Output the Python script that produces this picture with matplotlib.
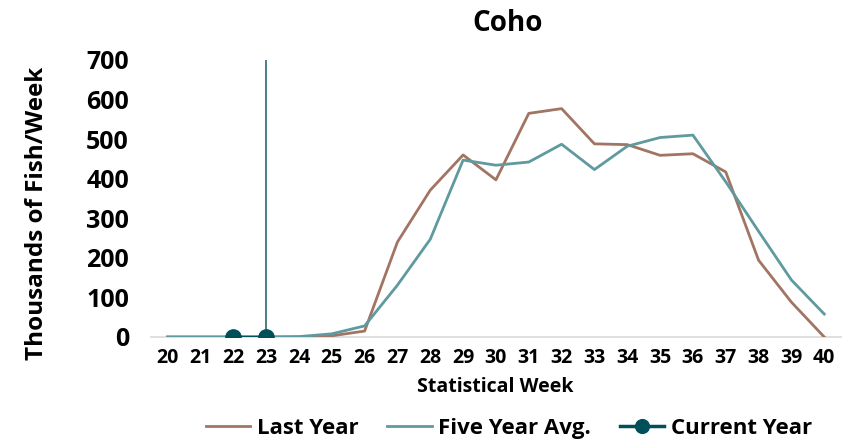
import numpy as np
import matplotlib
matplotlib.use("Agg")
import matplotlib.pyplot as plt

plt.rcParams["font.family"] = ["Open Sans", "DejaVu Sans"]
plt.rcParams["font.weight"] = "bold"

weeks = list(range(20, 41))
last_year = [0, 0, 0, 0, 0, 3, 15, 240, 371, 460, 397, 565, 577, 488, 486, 459, 463, 417, 194, 88, 0]
five_year = [0, 0, 0, 0, 1, 8, 28, 131, 247, 447, 434, 442, 487, 423, 482, 504, 510, 392, 267, 144, 58]
current_weeks = [22, 23]
current_year = [0, 0]
current_week = 23

C_LAST = "#A27464"
C_FIVE = "#5E9A9E"
C_CUR = "#00505A"

fig = plt.figure(figsize=(8.64, 4.44), dpi=100)
ax = fig.add_axes([0.175, 0.241, 0.798, 0.624])

ax.plot(weeks, last_year, color=C_LAST, lw=2, label="Last Year")
ax.plot(weeks, five_year, color=C_FIVE, lw=2, label="Five Year Avg.")
ax.plot(current_weeks, current_year, color=C_CUR, lw=2.5, marker="o", ms=11,
        label="Current Year", zorder=4)
ax.vlines(current_week, 0, 700, color="#2E6A70", lw=1.2, zorder=3)

ax.set_xlim(19.5, 40.5)
ax.set_ylim(0, 700)
ax.set_xticks(weeks)
ax.set_yticks(range(0, 701, 100))
ax.tick_params(axis="x", length=0, labelsize=14, pad=8)
ax.tick_params(axis="y", length=0, labelsize=18, pad=16)
for s in ["top", "right", "left"]:
    ax.spines[s].set_visible(False)
ax.spines["bottom"].set_color("#d9d9d9")
ax.spines["bottom"].set_linewidth(1.2)
ax.spines["bottom"].set_zorder(1)

fig.text(0.588, 0.948, "Coho", fontsize=20, fontweight="bold", ha="center", va="center")
fig.text(0.573, 1 - 387 / 444, "Statistical Week", fontsize=14, fontweight="bold",
         ha="center", va="center")
fig.text(0.043, 1 - 213 / 444, "Thousands of Fish/Week", fontsize=17.5, fontweight="bold",
         ha="center", va="center", rotation=90)

ax.legend(loc="center", bbox_to_anchor=(0.589, 1 - 428 / 444), bbox_transform=fig.transFigure,
          ncol=3, frameon=False, fontsize=16, handlelength=2.0, columnspacing=1.3,
          handletextpad=0.3, markerscale=0.9)

fig.savefig("out.png", dpi=100)
